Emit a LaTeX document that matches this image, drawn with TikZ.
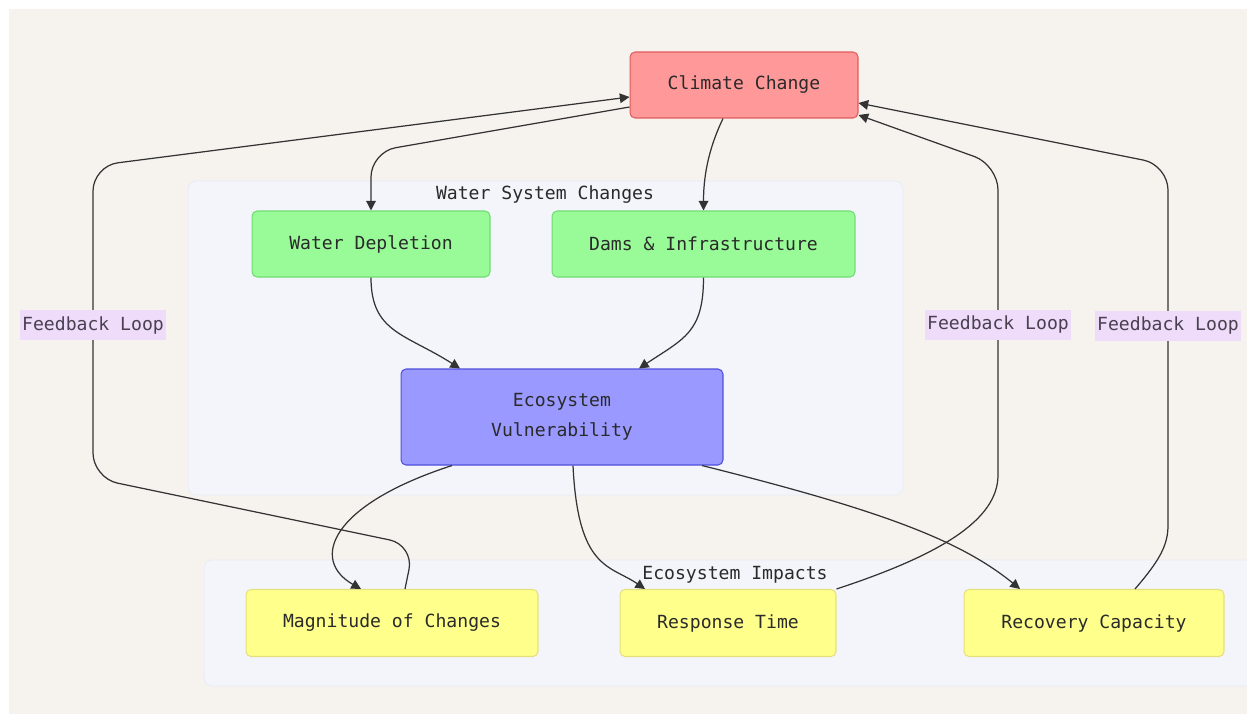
\documentclass[tikz,border=0pt]{standalone}
\usepackage{fontspec}
\setmonofont{DejaVu Sans Mono}
\usepackage{tikz}
\usetikzlibrary{arrows.meta}
\usepackage{xcolor}
\definecolor{bgbeige}{HTML}{F6F3EF}
\definecolor{grpfill}{HTML}{F3F5FB}
\definecolor{grpline}{HTML}{E9ECF4}
\definecolor{ccfill}{HTML}{FF9999}
\definecolor{ccline}{HTML}{E05A5A}
\definecolor{wsfill}{HTML}{98FB98}
\definecolor{wsline}{HTML}{70DD70}
\definecolor{evfill}{HTML}{9999FF}
\definecolor{evline}{HTML}{5050DD}
\definecolor{eifill}{HTML}{FFFF8C}
\definecolor{eiline}{HTML}{E6E07C}
\definecolor{lblfill}{HTML}{EEDCFA}
\definecolor{lbltext}{HTML}{4A4050}
\definecolor{txtgray}{HTML}{2A2A2A}
\definecolor{linegray}{HTML}{333333}

\begin{document}
\begin{tikzpicture}[x=0.02cm,y=-0.02cm,
  box/.style={rectangle,rounded corners=0.1cm,line width=0.6pt,text=txtgray,
    font=\ttfamily\fontsize{10.3}{17}\selectfont,align=center,inner sep=0pt},
  climate/.style={box,fill=ccfill,draw=ccline,minimum height=1.32cm},
  water/.style={box,fill=wsfill,draw=wsline,minimum height=1.32cm},
  vuln/.style={box,fill=evfill,draw=evline,minimum height=1.92cm},
  impact/.style={box,fill=eifill,draw=eiline,minimum height=1.34cm},
  grp/.style={fill=grpfill,draw=grpline,line width=0.5pt,rounded corners=0.16cm},
  grplabel/.style={text=txtgray,font=\ttfamily\fontsize{10.3}{13}\selectfont,inner sep=0pt},
  flow/.style={draw=linegray,line width=0.7pt,-{Triangle[length=5.5pt,width=5.5pt]}},
  loop/.style={flow,rounded corners=0.5cm},
  fbl/.style={fill=lblfill,text=lbltext,sharp corners,inner xsep=1pt,inner ysep=0pt,
    minimum height=0.6cm,font=\ttfamily\fontsize{10.3}{13}\selectfont}]
  \useasboundingbox (0,0) rectangle (1247,714);
  \clip (0,0) rectangle (1247,714);
  \fill[white] (0,0) rectangle (1247,714);
  \fill[bgbeige] (9,9) rectangle (1247,714);

  \path[grp] (188,181) rectangle (903,495);
  \path[grp] (204,560) rectangle (1262,686);
  \node[grplabel] (wsclabel) at (545,195) {Water System Changes};
  \node[grplabel] (eilabel) at (735,575) {Ecosystem Impacts};

  \node[climate,minimum width=4.56cm] (cc) at (744,85) {Climate Change};
  \node[water,minimum width=4.76cm] (wd) at (371,244) {Water Depletion};
  \node[water,minimum width=6.06cm] (dams) at (703.5,244) {Dams \& Infrastructure};
  \node[vuln,minimum width=6.44cm] (ev) at (562,417) {Ecosystem\\Vulnerability};
  \node[impact,minimum width=5.84cm] (mag) at (392,623) {Magnitude of Changes};
  \node[impact,minimum width=4.32cm] (resp) at (728,623) {Response Time};
  \node[impact,minimum width=5.2cm] (recov) at (1094,623) {Recovery Capacity};

  \draw[flow,rounded corners=0.5cm] ([yshift=-0.44cm]cc.west) -- (371,152) -- (wd.north);
  \draw[flow] ([xshift=-0.42cm]cc.south) .. controls +(-12,25) and +(0,-40) .. (dams.north);
  \draw[flow] (wd.south) .. controls +(0,55) and +(-55,-35) .. ([xshift=-2.04cm]ev.north);
  \draw[flow] (dams.south) .. controls +(0,55) and +(45,-30) .. ([xshift=1.54cm]ev.north);
  \draw[flow] ([xshift=-2.2cm]ev.south) .. controls (330,505) and (310,560) .. ([xshift=-0.62cm]mag.north);
  \draw[flow] ([xshift=0.22cm]ev.south) .. controls (578,570) and (610,565) .. ([xshift=-1.66cm]resp.north);
  \draw[flow] ([xshift=2.8cm]ev.south) .. controls (880,510) and (960,540) .. ([xshift=-1.48cm]recov.north);

  \draw[loop] ([xshift=0.26cm]mag.north) -- (414,545) -- (93,478)
    -- node[fbl,pos=0.49] (fbl1) {Feedback Loop} (93,166) -- ([yshift=-0.24cm]cc.west);
  \draw[loop] (resp.north east) .. controls (940,555) and (998,520) .. (998,450)
    -- node[fbl,pos=0.44] (fbl2) {Feedback Loop} (998,165) -- ([yshift=-0.6cm]cc.east);
  \draw[loop] ([xshift=0.82cm]recov.north) .. controls (1160,560) and (1168,545) .. (1168,500)
    -- node[fbl,pos=0.52] (fbl3) {Feedback Loop} (1168,165) -- ([yshift=-0.36cm]cc.east);
 %%%%%%%%%%%%%%%%%%%%%%%%%%%%%%%%%%%
\end{tikzpicture}
\end{document}
